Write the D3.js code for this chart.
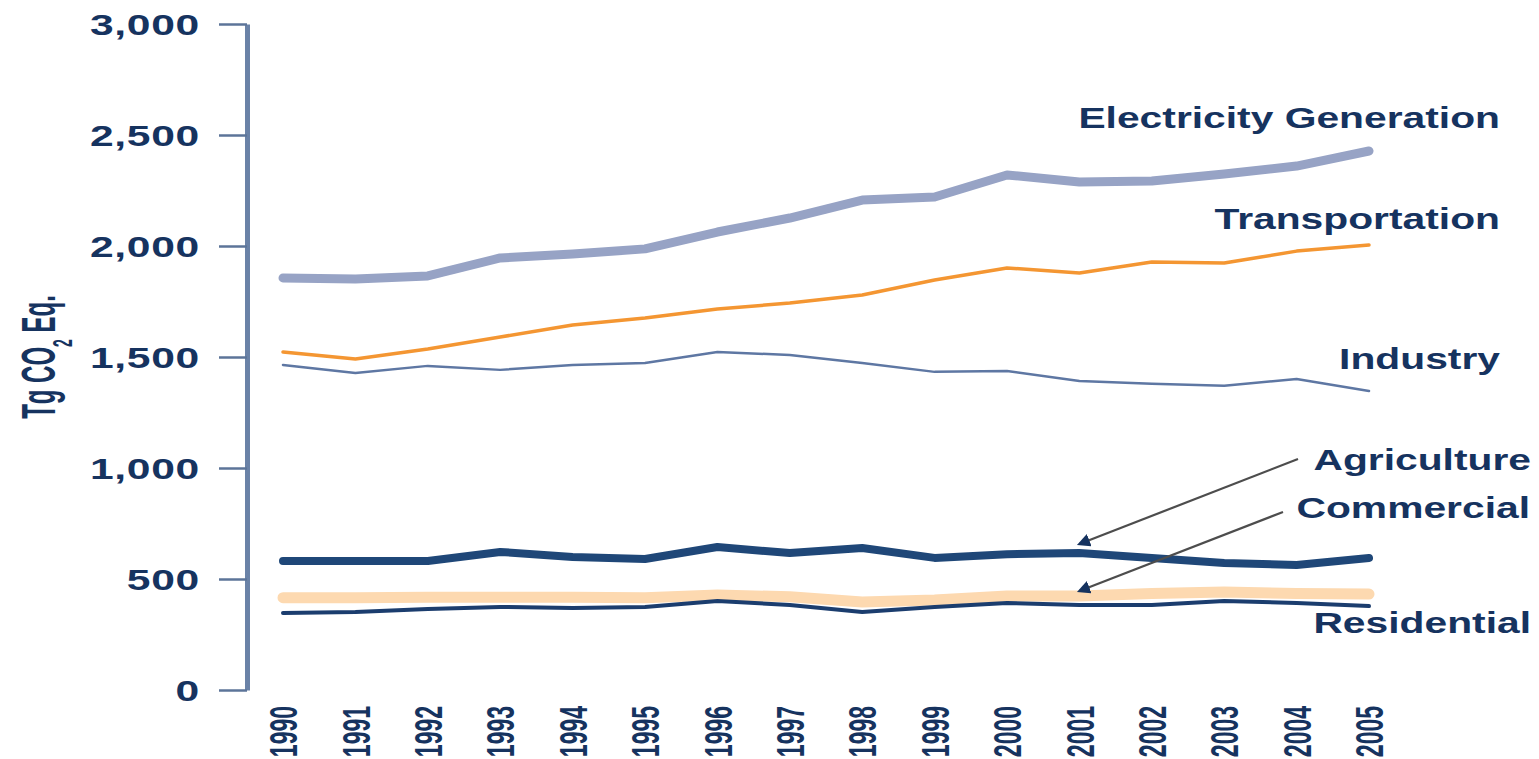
<!DOCTYPE html>
<html>
<head>
<meta charset="utf-8">
<script src="https://cdn.jsdelivr.net/npm/d3@7"></script>
<style>
  body { margin: 0; background: #fff; }
  text { font-family: "Liberation Sans", Arial, sans-serif; font-weight: bold; fill: #16335f; }
</style>
</head>
<body>
<div id="chart-area"></div>
<script>
// data (Tg CO2 Eq.)
let years = [1990, 1991, 1992, 1993, 1994, 1995, 1996, 1997, 1998, 1999, 2000, 2001, 2002, 2003, 2004, 2005];
let electricity = [1856, 1851, 1865, 1946, 1964, 1987, 2063, 2126, 2207, 2221, 2320, 2288, 2293, 2324, 2360, 2428];
let transportation = [1523, 1491, 1536, 1590, 1644, 1676, 1716, 1743, 1779, 1847, 1901, 1878, 1928, 1923, 1977, 2005];
let industry = [1464, 1428, 1460, 1442, 1464, 1473, 1523, 1509, 1473, 1433, 1437, 1392, 1379, 1370, 1401, 1347];
let agriculture = [581, 581, 581, 622, 599, 590, 644, 617, 640, 595, 612, 617, 595, 572, 563, 595];
let commercial = [416, 416, 418, 418, 418, 416, 428, 420, 396, 405, 423, 423, 435, 441, 435, 432];
let residential = [347, 351, 365, 374, 369, 374, 401, 383, 351, 374, 392, 383, 383, 401, 392, 378];
let yTicks = [0, 500, 1000, 1500, 2000, 2500, 3000];

let width = 1539, height = 759;

let x = d3.scaleLinear()
    .domain([1990, 2005])
    .range([283, 1369]);

let y = d3.scaleLinear()
    .domain([0, 3000])
    .range([690, 24]);

let svg = d3.select("#chart-area")
    .append("svg")
        .attr("width", width)
        .attr("height", height);

// y axis
let yAxisCall = d3.axisLeft(y)
    .tickValues(yTicks)
    .tickSize(28)
    .tickSizeOuter(0)
    .tickFormat(d3.format(","));

let yAxisGroup = svg.append("g")
    .attr("class", "y-axis")
    .attr("transform", "translate(247, 0)")
    .call(yAxisCall);

yAxisGroup.select(".domain")
    .attr("stroke", "#6a82a7")
    .attr("stroke-width", 5);
yAxisGroup.selectAll(".tick line")
    .attr("stroke", "#5c7499")
    .attr("stroke-width", 2.5);
yAxisGroup.selectAll(".tick text")
    .attr("x", null)
    .attr("dy", "0.36em")
    .attr("font-size", "30px")
    .attr("font-family", null)
    .attr("letter-spacing", "0.5px")
    .attr("text-anchor", "end")
    .attr("transform", "translate(-47, 0) scale(1.42, 1)");

// x axis (rotated year labels)
let xAxisCall = d3.axisBottom(x)
    .tickValues(years)
    .tickSize(0)
    .tickFormat(d3.format("d"));

let xAxisGroup = svg.append("g")
    .attr("class", "x-axis")
    .attr("transform", "translate(0, 706)")
    .call(xAxisCall);

xAxisGroup.select(".domain").remove();
xAxisGroup.selectAll(".tick text")
    .attr("x", 0)
    .attr("y", 0)
    .attr("dy", "0.36em")
    .attr("font-size", "23px")
    .attr("font-family", null)
    .attr("text-anchor", "end")
    .attr("transform", "scale(1.65, 1) rotate(-90)");

// y axis title
let yLabel = svg.append("text")
    .attr("class", "y-axis-label")
    .attr("font-size", "24px")
    .attr("text-anchor", "middle")
    .attr("dy", "0.36em")
    .attr("transform", "translate(38, 357) scale(2.0, 1) rotate(-90)");
yLabel.append("tspan").text("Tg CO");
yLabel.append("tspan").attr("font-size", "14px").attr("baseline-shift", "sub").text("2");
yLabel.append("tspan").text(" Eq.");

// series, drawn bottom first
let series = [
    {name: "Electricity Generation", values: electricity, color: "#97a3c5", w: 9},
    {name: "Transportation", values: transportation, color: "#f49632", w: 3.5},
    {name: "Industry", values: industry, color: "#5e77a3", w: 2.5},
    {name: "Agriculture", values: agriculture, color: "#1f4778", w: 8},
    {name: "Commercial", values: commercial, color: "#fdd9b0", w: 11},
    {name: "Residential", values: residential, color: "#1b3d6e", w: 4}
];

let line = d3.line()
    .x((d, i) => x(years[i]))
    .y(d => y(d));

svg.selectAll("path.series")
    .data(series)
    .enter()
    .append("path")
        .attr("class", "series")
        .attr("fill", "none")
        .attr("stroke", d => d.color)
        .attr("stroke-width", d => d.w)
        .attr("stroke-linecap", "round")
        .attr("stroke-linejoin", "round")
        .attr("d", d => line(d.values));

// series labels
let labels = [
    {name: "Electricity Generation", x: 1500, y: 128},
    {name: "Transportation", x: 1500, y: 229},
    {name: "Industry", x: 1500, y: 369},
    {name: "Agriculture", x: 1531, y: 470},
    {name: "Commercial", x: 1530, y: 518},
    {name: "Residential", x: 1531, y: 633}
];

svg.selectAll("text.series-label")
    .data(labels)
    .enter()
    .append("text")
        .attr("class", "series-label")
        .attr("font-size", "30px")
        .attr("text-anchor", "end")
        .attr("transform", d => "translate(" + d.x + ", " + d.y + ") scale(1.36, 1)")
        .text(d => d.name);

// arrows pointing at 2001
svg.append("defs").append("marker")
    .attr("id", "head")
    .attr("viewBox", "0 0 10 10")
    .attr("refX", 8)
    .attr("refY", 5)
    .attr("markerWidth", 6)
    .attr("markerHeight", 6)
    .attr("markerUnits", "strokeWidth")
    .attr("orient", "auto")
    .append("path")
        .attr("d", "M0,0L10,5L0,10z")
        .attr("fill", "#16335f");

let i2001 = years.indexOf(2001);
let arrows = [
    {from: [1298, 459], to: [x(2001), y(agriculture[i2001]) - 9]},
    {from: [1283, 512], to: [x(2001), y(commercial[i2001]) - 5]}
];

svg.selectAll("line.arrow")
    .data(arrows)
    .enter()
    .append("line")
        .attr("class", "arrow")
        .attr("x1", d => d.from[0])
        .attr("y1", d => d.from[1])
        .attr("x2", d => d.to[0])
        .attr("y2", d => d.to[1])
        .attr("stroke", "#4d4d4d")
        .attr("stroke-width", 2.2)
        .attr("marker-end", "url(#head)");
</script>
</body>
</html>
